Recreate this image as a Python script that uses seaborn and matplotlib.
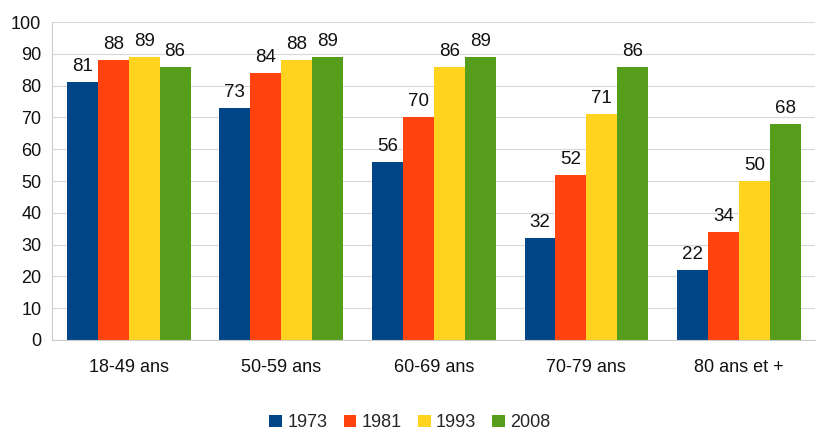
import matplotlib
matplotlib.use("Agg")
import matplotlib.pyplot as plt
import seaborn as sns
import pandas as pd

categories = ["18-49 ans", "50-59 ans", "60-69 ans", "70-79 ans", "80 ans et +"]
years = ["1973", "1981", "1993", "2008"]
v1973 = [81, 73, 56, 32, 22]
v1981 = [88, 84, 70, 52, 34]
v1993 = [89, 88, 86, 71, 50]
v2008 = [86, 89, 89, 86, 68]
colors = ["#004586", "#ff420e", "#ffd320", "#579d1c"]

series = [v1973, v1981, v1993, v2008]
rows = []
for y, vals in zip(years, series):
    for c, v in zip(categories, vals):
        rows.append({"cat": c, "year": y, "val": v})
df = pd.DataFrame(rows)

sns.set_theme(style="white")
plt.rcParams['font.family'] = ['Liberation Sans', 'DejaVu Sans']

fig = plt.figure(figsize=(8.2, 4.32), dpi=100)
ax = fig.add_axes([0.064, 0.213, 0.930, 0.736])
sns.barplot(data=df, x="cat", y="val", hue="year", palette=colors, ax=ax,
            width=0.81, saturation=1, linewidth=0, errorbar=None, legend=True)

for cont in ax.containers:
    ax.bar_label(cont, fmt="%d", padding=5, fontsize=13.5, color="#111111")

ax.set_ylim(0, 100)
ax.set_yticks(range(0, 101, 10))
ax.set_xlim(-0.5, 4.5)
ax.yaxis.grid(True, color="#d8d8d8", linewidth=0.8)
ax.set_axisbelow(True)
ax.set_xlabel("")
ax.set_ylabel("")
for s in ["top", "right"]:
    ax.spines[s].set_visible(False)
for s in ["left", "bottom"]:
    ax.spines[s].set_color("#cccccc")
    ax.spines[s].set_linewidth(0.8)
ax.tick_params(axis="both", labelsize=13, colors="#111111", length=0)
ax.tick_params(axis="y", pad=8)
ax.set_xticks([-0.5, 0.5, 1.5, 2.5, 3.5, 4.5], minor=True)
ax.tick_params(axis="x", which="minor", length=5, color="#cccccc", direction="out")
ax.tick_params(axis="x", which="major", pad=14)

handles, labels = ax.get_legend_handles_labels()
ax.legend_.remove()
fig.legend(handles, labels, loc="lower center", bbox_to_anchor=(0.5, -0.036), ncol=4,
           frameon=False, fontsize=13, handlelength=0.7, handleheight=0.7,
           handletextpad=0.3, columnspacing=0.9)

fig.savefig("out.png", dpi=100, facecolor="white")
